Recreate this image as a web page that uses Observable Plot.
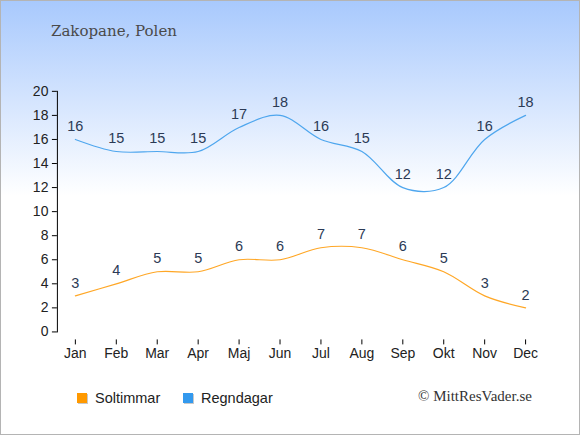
<!DOCTYPE html>
<html><head><meta charset="utf-8">
<script src="https://cdn.jsdelivr.net/npm/d3@7"></script>
<script src="https://cdn.jsdelivr.net/npm/@observablehq/plot@0.6"></script>
<style>
html,body{margin:0;padding:0;}
#wrap{position:relative;width:580px;height:435px;box-sizing:border-box;border:1px solid #b4b4b4;
 background:linear-gradient(to bottom,#a8c9fd 0px,#ffffff 195px,#ffffff 435px);overflow:hidden;font-family:"Liberation Sans",Arial,sans-serif;}
#title{position:absolute;left:50px;top:21px;font-family:"DejaVu Serif","Liberation Serif",serif;font-size:15px;color:#4a4a4a;}
#chart{position:absolute;left:-1px;top:-1px;}
.leg{position:absolute;top:389px;font-size:14.5px;color:#222;display:flex;align-items:center;}
.sq{width:10px;height:10px;margin-right:8px;box-shadow:1px 1px 0 #c8c8c8;}
#copy{position:absolute;left:417px;top:387px;font-family:"Liberation Serif","Times New Roman",serif;font-size:15px;color:#333;}
</style></head>
<body><div id="wrap"><div id="title">Zakopane, Polen</div><div id="chart"></div>
<div class="leg" style="left:76px"><div class="sq" style="background:#ff9900"></div>Soltimmar</div>
<div class="leg" style="left:182px"><div class="sq" style="background:#3399ee"></div>Regndagar</div>
<div id="copy">© MittResVader.se</div></div>
<script>
const months = ["Jan","Feb","Mar","Apr","Maj","Jun","Jul","Aug","Sep","Okt","Nov","Dec"];
const soltimmar = [3,4,5,5,6,6,7,7,6,5,3,2];
const regndagar = [16,15,15,15,17,18,16,15,12,12,16,18];
const yTicks = [0,2,4,6,8,10,12,14,16,18,20];

const sol = months.map((m,i)=>({month:m, value:soltimmar[i]}));
const regn = months.map((m,i)=>({month:m, value:regndagar[i]}));

const plot = Plot.plot({
  width: 580, height: 380,
  marginLeft: 57, marginRight: 37, marginTop: 91, marginBottom: 48,
  style: {background: "transparent", fontFamily: "'Liberation Sans', Arial, sans-serif", fontSize: "14px", overflow: "visible"},
  x: {type: "point", domain: months, range: [75, 526], padding: 0},
  y: {domain: [0, 20]},
  marks: [
    Plot.frame({anchor: "left", stroke: "#000"}),
    Plot.axisY({ticks: yTicks, tickSize: 5, tickPadding: 4, fontSize: 14, stroke: "#000", fill: "#222", label: null}),
    Plot.ruleY([0], {x1: "Jan", x2: "Dec", dy: 10, stroke: "#000"}),
    Plot.axisX({tickSize: 5, dy: 8, tickPadding: 3, fontSize: 14, stroke: "#000", fill: "#222", label: null}),
    Plot.line(regn, {x: "month", y: "value", stroke: "#4ea6ee", strokeWidth: 1.2, curve: "catmull-rom"}),
    Plot.line(sol, {x: "month", y: "value", stroke: "#ffa726", strokeWidth: 1.2, curve: "catmull-rom"}),
    Plot.text(regn, {x: "month", y: "value", text: "value", dy: -13, fontSize: 14.5, fill: "#2b3a55"}),
    Plot.text(sol, {x: "month", y: "value", text: "value", dy: -13, fontSize: 14.5, fill: "#2b3a55"})
  ]
});
document.getElementById("chart").appendChild(plot);
</script></body></html>
